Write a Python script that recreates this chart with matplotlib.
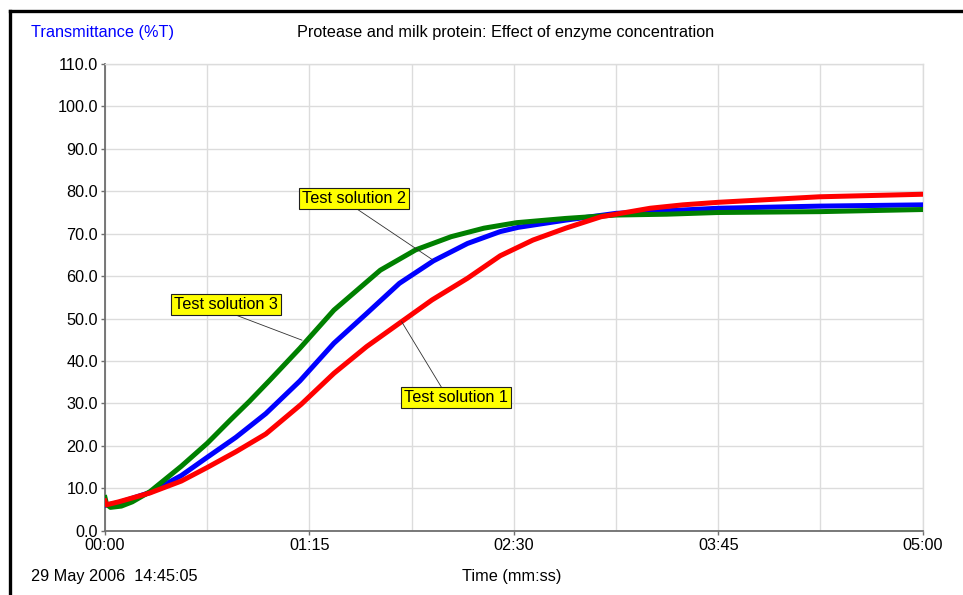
import matplotlib
matplotlib.use("Agg")
from matplotlib import pyplot as plt
from matplotlib.lines import Line2D
from matplotlib.ticker import FuncFormatter, MultipleLocator
import numpy as np

plt.rcParams['font.family'] = ['Liberation Sans', 'DejaVu Sans']

# values (time in seconds, transmittance in %T)
t_sol1 = [0, 0.5, 5, 16.5, 28, 37.5, 48, 59, 72, 84, 96, 108, 120, 133, 145, 157, 169, 182, 200, 212, 225, 262, 300]
v_sol1 = [7.0, 6.1, 6.8, 8.9, 11.7, 14.9, 18.6, 22.8, 29.8, 37.1, 43.4, 48.9, 54.4, 59.5, 64.8, 68.5, 71.3, 74.0, 76.0, 76.8, 77.4, 78.7, 79.3]

t_sol2 = [0, 5, 16.5, 28, 37.5, 48, 59, 71.5, 84, 96, 108, 120.5, 133, 145, 151.6, 169, 187.5, 206, 225, 262, 300]
v_sol2 = [6.0, 6.6, 9.0, 13.0, 17.3, 22.0, 27.6, 35.3, 44.2, 51.2, 58.3, 63.6, 67.7, 70.5, 71.5, 73.2, 74.8, 75.4, 76.0, 76.5, 76.8]

t_sol3 = [0, 0.6, 2, 6, 10, 16.5, 28, 37.5, 46, 53, 60.5, 71.5, 84, 101, 114, 127, 139, 151, 169, 187.5, 206, 225, 262, 300]
v_sol3 = [7.8, 6.2, 5.5, 5.8, 6.8, 9.2, 15.2, 20.6, 26.1, 30.5, 35.5, 43.0, 52.0, 61.4, 66.2, 69.3, 71.3, 72.6, 73.6, 74.4, 74.6, 75.0, 75.2, 75.7]

# label box centres and the curve points their leaders go to
label_names = ['Test solution 1', 'Test solution 2', 'Test solution 3']
label_pos = [(128.9, 31.3), (91.4, 78.2), (44.3, 53.4)]
label_target = [(108.8, 49.3), (120.3, 63.8), (72.3, 44.9)]
label_rel = [(0.375, 1.0), (0.49, 0.0), (0.51, 0.0)]

grid_col = '#dcdcdc'
axis_col = '#6e6e6e'
fs = 11.7

fig = plt.figure(figsize=(9.63, 5.95), dpi=100)
ax = fig.add_axes([105 / 963, 1 - 530.7 / 595, 817.7 / 963, 466.7 / 595])

ax.plot(t_sol2, v_sol2, color='#0000ff', lw=3.6, solid_joinstyle='round', zorder=3)
ax.plot(t_sol3, v_sol3, color='#008000', lw=3.6, solid_joinstyle='round', zorder=4)
ax.plot(t_sol1, v_sol1, color='#ff0000', lw=3.6, solid_joinstyle='round', zorder=5)

ax.set_xlim(0, 300)
ax.set_ylim(0, 110)
ax.xaxis.set_major_locator(MultipleLocator(75))
ax.xaxis.set_minor_locator(MultipleLocator(37.5))
ax.yaxis.set_major_locator(MultipleLocator(10))
ax.xaxis.set_major_formatter(FuncFormatter(lambda s, p: '%02d:%02d' % (int(s) // 60, int(s) % 60)))
ax.yaxis.set_major_formatter(FuncFormatter(lambda v, p: '%.1f' % v))

ax.grid(which='both', color=grid_col, lw=1.0)
ax.set_axisbelow(True)
ax.tick_params(which='major', length=3, width=1, color=axis_col, labelsize=fs, pad=2)
ax.tick_params(axis='x', which='minor', length=0)
for side in ['top', 'right']:
    ax.spines[side].set_color(grid_col)
    ax.spines[side].set_linewidth(1.0)
for side in ['left', 'bottom']:
    ax.spines[side].set_color(axis_col)
    ax.spines[side].set_linewidth(1.3)

for name, pos, target, rel in zip(label_names, label_pos, label_target, label_rel):
    ax.annotate(name, xy=target, xytext=pos, ha='center', va='center', fontsize=fs, zorder=6,
                bbox=dict(boxstyle='square,pad=0.18', fc='#ffff00', ec='#202020', lw=0.8),
                arrowprops=dict(arrowstyle='-', color='#303030', lw=0.6, relpos=rel,
                                shrinkA=0, shrinkB=0))

fig.text(31 / 963, 1 - 33 / 595, 'Transmittance (%T)', color='#0000ff', fontsize=fs, va='center')
fig.text(505.5 / 963, 1 - 33 / 595, 'Protease and milk protein: Effect of enzyme concentration',
         fontsize=fs, ha='center', va='center')
fig.text(31 / 963, 1 - 577 / 595, '29 May 2006  14:45:05', fontsize=fs, va='center')
fig.text(512 / 963, 1 - 577 / 595, 'Time (mm:ss)', fontsize=fs, ha='center', va='center')

# window frame: thick black line along top and left
fig.add_artist(Line2D([9.5 / 963, 1.0], [1 - 10.5 / 595, 1 - 10.5 / 595], color='black', lw=2.4))
fig.add_artist(Line2D([9.5 / 963, 9.5 / 963], [0, 1 - 10.5 / 595], color='black', lw=2.4))

fig.savefig('out.png', dpi=100)
